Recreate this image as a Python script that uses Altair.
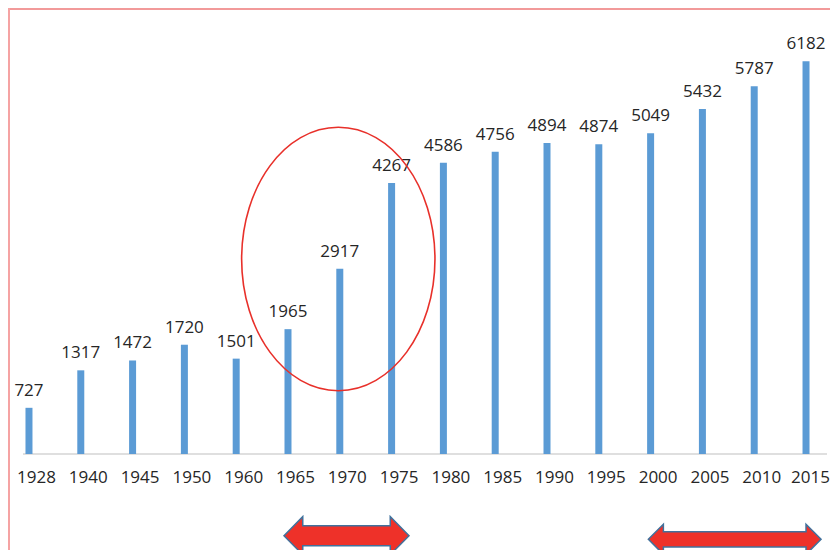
import altair as alt
import pandas as pd

years = ["1928", "1940", "1945", "1950", "1960", "1965", "1970", "1975",
         "1980", "1985", "1990", "1995", "2000", "2005", "2010", "2015"]
values = [727, 1317, 1472, 1720, 1501, 1965, 2917, 4267,
          4586, 4756, 4894, 4874, 5049, 5432, 5787, 6182]

df = pd.DataFrame({"year": years, "value": values,
                   "label": [str(v) for v in values]})
one = pd.DataFrame({"k": [0]})

W, H = 819, 446
FONT = "Open Sans"
TXT = "#262626"

xenc = alt.X("year:O", sort=None,
             scale=alt.Scale(type="point", padding=0.405),
             axis=alt.Axis(title=None, domain=False, ticks=False, tickSize=0,
                           labelAngle=0, labelFont=FONT, labelFontSize=17,
                           labelColor=TXT, labelPadding=15,
                           labelOffset={"condition": {"test": "datum.value == '2015'",
                                                      "value": 4},
                                        "value": 7}))
yenc = alt.Y("value:Q", scale=alt.Scale(domain=[0, 7020], nice=False, zero=True),
             axis=None)

bars = alt.Chart(df).mark_bar(size=7, color="#5B9BD5").encode(x=xenc, y=yenc)

labels = alt.Chart(df).mark_text(
    font=FONT, fontSize=17, color=TXT, baseline="alphabetic", dy=-12
).encode(x=alt.X("year:O", sort=None), y="value:Q", text="label:N")

baseline = alt.Chart(one).mark_rule(color="#BFBFBF", strokeWidth=1.2).encode(
    x=alt.value(15), x2=alt.value(819), y=alt.value(H))

border_top = alt.Chart(one).mark_rule(color="#F29A9A", strokeWidth=2).encode(
    x=alt.value(0), x2=alt.value(830), y=alt.value(1))
border_left = alt.Chart(one).mark_rule(color="#F5A3A3", strokeWidth=2).encode(
    x=alt.value(1), y=alt.value(0), y2=alt.value(560))

a = 0.734
k = 0.5523
ell_path = (f"M{-a},0 C{-a},{-k} {-k*a},-1 0,-1 C{k*a},-1 {a},{-k} {a},0 "
            f"C{a},{k} {k*a},1 0,1 C{-k*a},1 {-a},{k} {-a},0 Z")
ellipse = alt.Chart(one).mark_point(
    shape=ell_path, filled=False, stroke="#E8302A", strokeWidth=1.6,
    size=263.4 ** 2, opacity=1
).encode(x=alt.value(330.3), y=alt.value(251))


def arrow_path(hh, sh, hl):
    e = 1 - hl
    return (f"M-1,0 L{-e},{-hh} L{-e},{-sh} L{e},{-sh} L{e},{-hh} L1,0 "
            f"L{e},{hh} L{e},{sh} L{-e},{sh} L{-e},{hh} Z")


arrow1 = alt.Chart(one).mark_point(
    shape=arrow_path(0.304, 0.16, 0.3), filled=True, fill="#EE3129",
    stroke="#41719C", strokeWidth=1.5, size=125 ** 2, opacity=1
).encode(x=alt.value(338.5), y=alt.value(527.7))

arrow2 = alt.Chart(one).mark_point(
    shape=arrow_path(0.174, 0.088, 0.174), filled=True, fill="#EE3129",
    stroke="#41719C", strokeWidth=1.5, size=172.7 ** 2, opacity=1
).encode(x=alt.value(726.7), y=alt.value(531.3))

chart = alt.layer(
    border_top, border_left, baseline, bars, labels, ellipse, arrow1, arrow2
).properties(
    width=W, height=H,
    padding={"left": 0, "top": 0, "right": 3, "bottom": 104},
    autosize=alt.AutoSizeParams(type="none"),
    background="white",
).configure_view(strokeOpacity=0)

chart.save("out.html", embed_options={"renderer": "svg", "actions": False})
